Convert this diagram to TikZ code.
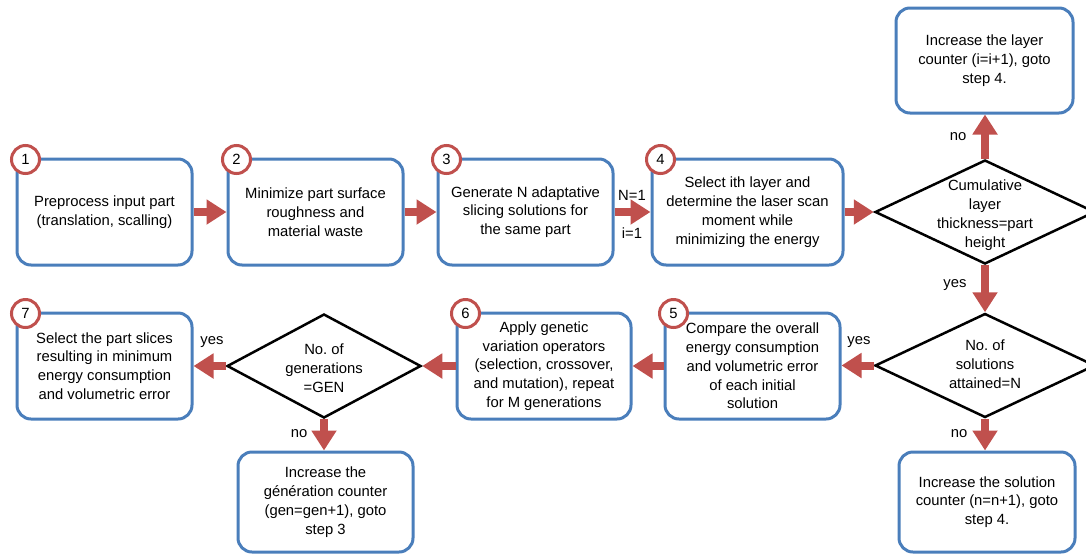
\documentclass[tikz,border=0pt]{standalone}
\usepackage{fontspec}
\setmainfont{Liberation Sans}
\usetikzlibrary{shapes.geometric,arrows.meta}
\definecolor{stepblue}{RGB}{74,126,187}
\definecolor{flowred}{RGB}{192,80,77}
\begin{document}
\begin{tikzpicture}[x=1pt,y=-1pt,
  font=\fontsize{14.8}{18.8}\selectfont,
  stepbox/.style={draw=stepblue,line width=3pt,rounded corners=14pt,fill=white,
    minimum height=106pt,align=center,inner sep=0pt},
  decision/.style={draw=black,line width=2.5pt,shape=diamond,fill=white,
    minimum width=#1,minimum height=104pt,inner sep=0pt},
  badge/.style={circle,draw=flowred,line width=3pt,fill=white,minimum size=28pt,inner sep=0pt},
  flow/.style={draw=flowred,line width=8pt,-{Triangle[length=20pt,width=24pt]}}]
  \useasboundingbox (0,0) rectangle (1086,555);
  \clip (0,0) rectangle (1086,555);
  % top row
  \node[stepbox,minimum width=175pt] (b1) at (104.5,212) {Preprocess input part\\(translation, scalling)};
  \node[stepbox,minimum width=175pt] (b2) at (315.5,212) {Minimize part surface\\roughness and\\material waste};
  \node[stepbox,minimum width=175pt] (b3) at (525.5,212) {Generate N adaptative\\slicing solutions for\\the same part};
  \node[stepbox,minimum width=191pt] (b4) at (747.5,212) {Select ith layer and\\determine the laser scan\\moment while\\minimizing the energy};
  \node[decision=220pt] (d1) at (985,212) {};
  \node[align=center] (t1) at (985,215) {Cumulative\\layer\\thickness=part\\height};
  \node[stepbox,minimum width=177pt,minimum height=105pt] (b4a) at (984.5,60.5) {Increase the layer\\counter (i=i+1), goto\\step 4.};
  % bottom row
  \node[decision=220pt] (d2) at (985,365.5) {};
  \node[align=center] (t2) at (985,364) {No.\ of\\solutions\\attained=N};
  \node[stepbox,minimum width=176pt,minimum height=100pt] (b4b) at (987,502) {Increase the solution\\counter (n=n+1), goto\\step 4.};
  \node[stepbox,minimum width=175pt] (b5) at (752.5,366) {Compare the overall\\energy consumption\\and volumetric error\\of each initial\\solution};
  \node[stepbox,minimum width=174pt] (b6) at (544,366) {Apply genetic\\variation operators\\(selection, crossover,\\and mutation), repeat\\for M generations};
  \node[decision=194pt] (d3) at (324,366) {};
  \node[align=center] (t3) at (324,368) {No.\ of\\generations\\=GEN};
  \node[stepbox,minimum width=175pt] (b7) at (104.5,366) {Select the part slices\\resulting in minimum\\energy consumption\\and volumetric error};
  \node[stepbox,minimum width=175pt,minimum height=100pt] (b6a) at (325.5,502) {Increase the\\génération counter\\(gen=gen+1), goto\\step 3};
  % step numbers
  \foreach \b/\n in {b1/1,b2/2,b3/3,b4/4,b5/5,b6/6,b7/7}
    \node[badge] (c\n) at ([shift={(10,2)}]\b.north west) {\n};
  % connectors
  \draw[flow] (b1) -- (b2);
  \draw[flow] (b2) -- (b3);
  \draw[flow] (b3) -- (b4);
  \draw[flow] (b4) -- (d1);
  \draw[flow] (d1.north) -- (d1.north |- b4a.south);
  \draw[flow] (d1.south) -- (d2.north);
  \draw[flow] (d2.south) -- (d2.south |- b4b.north);
  \draw[flow] (d2.west) -- (d2.west -| b5.east);
  \draw[flow] (b5) -- (b6);
  \draw[flow] (b6.west) -- (d3.east);
  \draw[flow] (d3.west) -- (d3.west -| b7.east);
  \draw[flow] (d3.south) -- (d3.south |- b6a.north);
  % labels
  \node (l1) at (632,195) {N=1};
  \node (l2) at (632,233) {i=1};
  \node (l3) at (958,137) {no};
  \node (l4) at (955,285) {yes};
  \node (l5) at (859,342) {yes};
  \node (l6) at (959,434) {no};
  \node (l7) at (212,342) {yes};
  \node (l8) at (299,434) {no};
\end{tikzpicture}
\end{document}
